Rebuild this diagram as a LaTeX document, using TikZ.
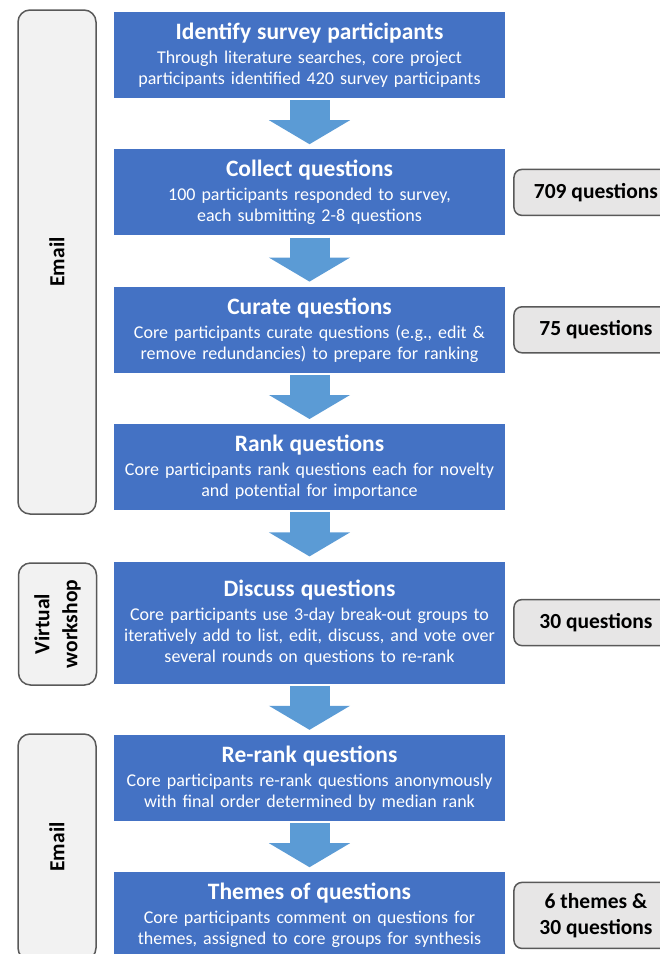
\documentclass[tikz,border=0pt]{standalone}
\usepackage{fontspec}
\setmainfont{Carlito}
\usepackage{tikz}
\usetikzlibrary{positioning,arrows.meta}

\definecolor{stepblue}{HTML}{4472C4}
\definecolor{arrowblue}{HTML}{5B9BD5}
\definecolor{boxgray}{HTML}{F2F2F2}
\definecolor{countgray}{HTML}{E7E6E6}
\definecolor{edgegray}{HTML}{595959}

\newcommand{\titlefont}{\fontsize{23.5}{28}\selectfont\bfseries}

\begin{document}
\begin{tikzpicture}[%
    x=1pt,
    y=1pt,
    node distance=51pt,
    stepbox/.style={%
      rectangle,
      fill=stepblue,
      text=white,
      minimum width=391pt,
      minimum height=86pt,
      text width=385pt,
      inner sep=0pt,
      align=center,
      font=\fontsize{18}{21}\selectfont
    },
    flow/.style={%
      draw=arrowblue,
      line width=40pt,
      -{Triangle[width=80pt,length=24pt]},
      shorten <=2pt,
      shorten >=5pt
    },
    group/.style={%
      rectangle,
      rounded corners=12pt,
      rotate=90,
      minimum height=78pt,
      fill=boxgray,
      draw=edgegray,
      line width=1.5pt,
      align=center,
      font=\fontsize{21.5}{28}\selectfont\bfseries
    },
    count/.style={%
      rectangle,
      rounded corners=8pt,
      minimum width=164pt,
      minimum height=46pt,
      fill=countgray,
      draw=edgegray,
      line width=1.5pt,
      align=center,
      font=\fontsize{21.5}{26}\selectfont\bfseries
    }
  ]
    \useasboundingbox (0,0) rectangle (660,-954);

    % steps
    \node[stepbox] (1) at (309.5,-55)
      {{\titlefont Identify survey participants}\\[3pt]
       Through literature searches, core project\\
       participants identified 420 survey participants};
    \node[stepbox] (2) [below=of 1]
      {{\titlefont Collect questions}\\[3pt]
       100 participants responded to survey,\\
       each submitting 2-8 questions};
    \node[stepbox] (3) [below=of 2]
      {{\titlefont Curate questions}\\[3pt]
       Core participants curate questions (e.g., edit \&\\
       remove redundancies) to prepare for ranking};
    \node[stepbox] (4) [below=of 3]
      {{\titlefont Rank questions}\\[3pt]
       Core participants rank questions each for novelty\\
       and potential for importance};
    \node[stepbox,minimum height=122pt] (5) [below=of 4]
      {{\titlefont Discuss questions}\\[3pt]
       Core participants use 3-day break-out groups to\\
       iteratively add to list, edit, discuss, and vote over\\
       several rounds on questions to re-rank};
    \node[stepbox] (6) [below=of 5]
      {{\titlefont Re-rank questions}\\[3pt]
       Core participants re-rank questions anonymously\\
       with final order determined by median rank};
    \node[stepbox] (7) [below=of 6]
      {{\titlefont Themes of questions}\\[3pt]
       Core participants comment on questions for\\
       themes, assigned to core groups for synthesis};

    % how
    \node[group,minimum width=504pt] (e1) at (57,-262) {Email};
    \node[group,minimum width=122pt] (w)  at (57.5,-624) {Virtual\\workshop};
    \node[group,minimum width=226pt] (e2) at (57,-847) {Email};

    % counts
    \node[count] (c2) [right=8pt of 2] {709 questions};
    \node[count] (c3) [right=8pt of 3] {75 questions};
    \node[count] (c5) [right=8pt of 5] {30 questions};
    \node[count,minimum height=66pt] (c7) [right=8pt of 7] {6 themes \&\\30 questions};

    \path (1) edge[flow] (2)
          (2) edge[flow] (3)
          (3) edge[flow] (4)
          (4) edge[flow] (5)
          (5) edge[flow] (6)
          (6) edge[flow] (7);
\end{tikzpicture}
\end{document}
